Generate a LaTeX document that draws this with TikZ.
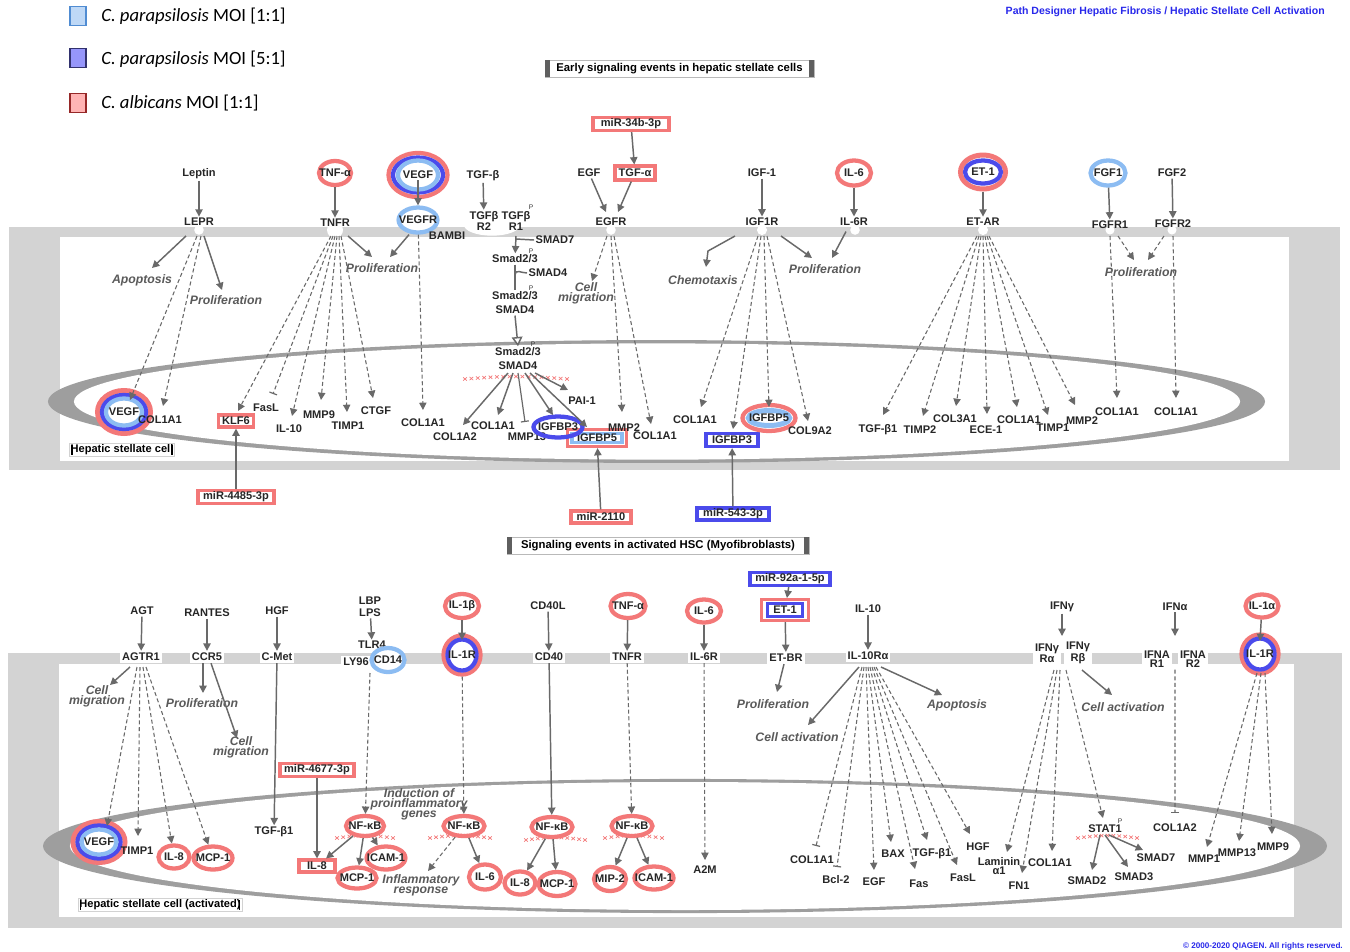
\documentclass[tikz,border=0pt]{standalone}
\usepackage{fontspec}
\setmainfont{Liberation Sans}
\newfontfamily\legfont{Carlito}
\usetikzlibrary{shapes.geometric,arrows.meta,calc}
\definecolor{rd}{RGB}{243,120,120}
\definecolor{db}{RGB}{75,75,235}
\definecolor{lb}{RGB}{140,188,242}
\definecolor{gr}{RGB}{105,105,105}
\definecolor{mem}{RGB}{211,211,211}
\definecolor{nuc}{RGB}{158,158,158}
\definecolor{fngray}{RGB}{90,90,90}
\definecolor{ttl}{RGB}{40,40,235}
\definecolor{legAf}{RGB}{190,216,246}
\definecolor{legAd}{RGB}{80,140,210}
\definecolor{legBf}{RGB}{150,150,250}
\definecolor{legBd}{RGB}{50,50,110}
\definecolor{legCf}{RGB}{255,180,180}
\definecolor{legCd}{RGB}{150,40,40}
\definecolor{hbar}{RGB}{95,95,95}
\newcommand{\lbl}{\fontsize{8.3}{6.8}\selectfont\bfseries}
\newcommand{\fnl}{\fontsize{9.2}{7.6}\selectfont\bfseries\itshape}
\newcommand{\fanline}[5]{\draw[#1] ($(#2)+(#3,0)$) -- ($(#4)+#5$);}
\newcommand{\xmrow}[4]{%
  \foreach \i in {0,...,#4}{%
    \pgfmathsetmacro{\xmA}{#1+(#2-#1)*\i/#4}%
    \pgfmathsetmacro{\xmB}{#3-2.5*sin(180*\i/#4)}%
    \draw[rd, line width=0.5pt] (\xmA-1.8,\xmB-1.6) -- (\xmA+1.8,\xmB+1.6) (\xmA-1.8,\xmB+1.6) -- (\xmA+1.8,\xmB-1.6);
  }}
\tikzset{
  lab/.style={font=\lbl, inner sep=1pt, text=black!85},
  rlab/.style={lab, fill=white, inner sep=1.5pt},
  fn/.style={font=\fnl, text=fngray, inner sep=1pt, align=center},
  pl/.style={font=\fontsize{5}{5}\selectfont, inner sep=0pt, text=black!80},
  ring/.style={ellipse, draw=rd, line width=3.2pt, inner sep=-4pt, font=\lbl, text=black!85, fill=white},
  mbox/.style={rectangle, draw=rd, line width=2.3pt, inner sep=0.6pt, fill=white, font=\lbl, text=black!85},
  arr/.style={draw=gr, line width=1.1pt, -{Triangle[length=5.5pt,width=5.5pt]}},
  darr/.style={arr, line width=0.8pt, dash pattern=on 3pt off 2pt},
  inh/.style={draw=gr, line width=0.9pt, -{Bar[width=6pt,line width=0.9pt]}},
  dinh/.style={inh, line width=0.8pt, dash pattern=on 3pt off 2pt},
  oarr/.style={draw=gr, line width=1.1pt, -{Triangle[open,length=7pt,width=8pt,fill=white]}},
  ln/.style={draw=gr, line width=1.1pt},
  hdr/.style={draw=gray!55, fill=white, line width=0.7pt, font=\fontsize{8.5}{9}\selectfont\bfseries, inner sep=0pt, minimum height=12.75pt},
  cellab/.style={draw=gray!35, fill=white, line width=0.5pt, inner sep=1pt, font=\lbl},
  legbox/.style={line width=1pt, minimum width=12pt, minimum height=14pt, inner sep=0pt},
  legtxt/.style={anchor=west, font=\legfont\fontsize{14}{14}\selectfont, inner sep=0pt},
}
\begin{document}
\begin{tikzpicture}[x=0.75pt,y=-0.75pt]
\useasboundingbox (0,0) rectangle (1350,951);
\fill[white] (0,0) rectangle (1350,951);

% ---------- legend, title ----------
\node[legbox, draw=legAd, fill=legAf] (legA) at (78,16) {};
\node[legtxt] (legAt) at (101,16) {\textit{C. parapsilosis} MOI [1:1]};
\node[legbox, draw=legBd, fill=legBf] (legB) at (78,58) {};
\node[legtxt] (legBt) at (101,59) {\textit{C. parapsilosis} MOI [5:1]};
\node[legbox, draw=legCd, fill=legCf] (legC) at (78,103) {};
\node[legtxt] (legCt) at (101,103) {\textit{C. albicans} MOI [1:1]};
\node[anchor=east, font=\fontsize{7.9}{8}\selectfont\bfseries, text=ttl, inner sep=0pt] (title) at (1325,12) {Path Designer Hepatic Fibrosis / Hepatic Stellate Cell Activation};
\node[anchor=east, font=\fontsize{6.1}{6}\selectfont\bfseries, text=ttl, inner sep=0pt] (copyr) at (1343,946) {© 2000-2020 QIAGEN. All rights reserved.};

% ---------- cell panels ----------
\fill[mem] (9,227) rectangle (1340,470);
\fill[white] (60,237) rectangle (1289,461);
\fill[mem] (8,653) rectangle (1342,928);
\fill[white] (59,664) rectangle (1294,917);
\fill[nuc] (656.5,401.5) ellipse [x radius=456.4pt, y radius=46.1pt];
\fill[white] (657,401.5) ellipse [x radius=437.3pt, y radius=43.6pt];
\fill[nuc] (685,846) ellipse [x radius=481.5pt, y radius=50.3pt];
\fill[white] (685,846) ellipse [x radius=461.3pt, y radius=48pt];
% membrane notches
\foreach \nx/\nr in {199/3.6, 335/6, 611/3.6, 762/3.8, 855/3.6, 983/3.8, 1110/3.4, 1172/3.4}
  \fill[white] (\nx,230) circle (\nr pt);
\fill[white] (492,225) ellipse [x radius=21pt, y radius=8pt];

% ---------- headers ----------
\node[hdr, minimum width=201.75pt] (hdr1) at (679.5,68.5) {Early signaling events in hepatic stellate cells};
\fill[hbar] (hdr1.north west) rectangle ($(hdr1.south west)+(5,0)$);
\fill[hbar] ($(hdr1.north east)+(-5,0)$) rectangle (hdr1.south east);
\node[hdr, minimum width=226.5pt] (hdr2) at (658,545.5) {Signaling events in activated HSC (Myofibroblasts)};
\fill[hbar] (hdr2.north west) rectangle ($(hdr2.south west)+(5,0)$);
\fill[hbar] ($(hdr2.north east)+(-5,0)$) rectangle (hdr2.south east);

% ---------- cell labels ----------
\node[cellab] (hsc1) at (122,450) {Hepatic stellate cell};
\draw[black, line width=0.8pt] ($(hsc1.west)+(3,-5)$) -- ($(hsc1.west)+(3,5)$);
\draw[black, line width=0.8pt] ($(hsc1.east)+(-3,-5)$) -- ($(hsc1.east)+(-3,5)$);
\node[cellab] (hsc2) at (160,905) {Hepatic stellate cell (activated)};
\draw[black, line width=0.8pt] ($(hsc2.west)+(3,-5)$) -- ($(hsc2.west)+(3,5)$);
\draw[black, line width=0.8pt] ($(hsc2.east)+(-3,-5)$) -- ($(hsc2.east)+(-3,5)$);

% ================= UPPER: ligands =================
\node[lab] (leptin) at (199,174) {Leptin};
\node[ring, minimum width=24pt, minimum height=18pt] (tnfa1) at (335,173) {TNF-α};
\node[ring, minimum width=44.25pt, minimum height=33pt] (vegf1o) at (418,175) {};
\node[ring, draw=db, minimum width=37.5pt, minimum height=26.25pt] (vegf1m) at (418,175) {};
\node[ring, draw=lb, minimum width=30pt, minimum height=21.75pt] (vegf1) at (418,175) {VEGF};
\node[lab] (tgfb) at (483,176) {TGF-β};
\node[mbox, minimum width=57pt, minimum height=9.75pt] (mir34) at (631,124) {miR-34b-3p};
\node[lab] (egf) at (589,173) {EGF};
\node[mbox, minimum width=30pt, minimum height=10.5pt] (tgfa) at (635,173) {TGF-α};
\node[lab] (igf1) at (762,173) {IGF-1};
\node[ring, minimum width=25.5pt, minimum height=18.75pt] (il6a) at (854,173) {IL-6};
\node[ring, line width=3.75pt, minimum width=33.75pt, minimum height=25.5pt] (et1ao) at (983,172) {};
\node[ring, draw=db, minimum width=27pt, minimum height=17.25pt] (et1a) at (983,172) {ET-1};
\node[ring, draw=lb, minimum width=26.25pt, minimum height=18.75pt] (fgf1) at (1108,173) {FGF1};
\node[lab] (fgf2) at (1172,173) {FGF2};

% receptors
\node[lab] (lepr) at (199,222) {LEPR};
\node[lab] (tnfr) at (335,223) {TNFR};
\node[ring, draw=lb, minimum width=25.5pt, minimum height=18.75pt] (vegfr) at (418,220) {VEGFR};
\node[lab] (bambi) at (447,236) {BAMBI};
\node[lab, align=center] (tgfbr2) at (484,221) {TGFβ\\R2};
\node[lab, align=center] (tgfbr1) at (516,221) {TGFβ\\R1};
\node[pl] (pA) at (531,207) {P};
\node[lab] (egfr) at (611,222) {EGFR};
\node[lab] (igf1r) at (762,222) {IGF1R};
\node[lab] (il6r) at (854,222) {IL-6R};
\node[lab] (etar) at (983,222) {ET-AR};
\node[lab] (fgfr1) at (1110,225) {FGFR1};
\node[lab] (fgfr2) at (1173,224) {FGFR2};

% functions (upper)
\node[fn] (apop1) at (142,280) {Apoptosis};
\node[fn] (prol1) at (226,300) {Proliferation};
\node[fn] (prol2) at (382,268) {Proliferation};
\node[fn] (cmig1) at (586,293) {Cell\\migration};
\node[fn] (chemo) at (703,280) {Chemotaxis};
\node[fn] (prol3) at (825,269) {Proliferation};
\node[fn] (prol4) at (1141,272) {Proliferation};

% TGF-beta cascade
\node[lab] (smad23a) at (515,259) {Smad2/3};
\node[pl] (pB) at (531,251) {P};
\node[lab] (smad7) at (555,240) {SMAD7};
\node[lab] (smad4a) at (548,273) {SMAD4};
\node[lab] (smad23b) at (515,296) {Smad2/3};
\node[pl] (pC) at (531,288) {P};
\node[lab] (smad4b) at (515,310) {SMAD4};
\node[lab] (smad23c) at (518,352) {Smad2/3};
\node[pl] (pD) at (533,344) {P};
\node[lab] (smad4c) at (518,366) {SMAD4};

% nucleus (upper)
\node[ring, line width=3.75pt, minimum width=39.75pt, minimum height=32.25pt] (vegfNo) at (124,412) {};
\node[ring, draw=db, minimum width=33pt, minimum height=25.5pt] (vegfNm) at (124,412) {};
\node[ring, draw=lb, minimum width=27pt, minimum height=20.25pt] (vegfN) at (124,412) {VEGF};
\node[lab] (colA) at (160,420) {COL1A1};
\node[mbox, minimum width=26.25pt, minimum height=9pt] (klf6) at (236,421) {KLF6};
\node[lab] (fasl1) at (266,408) {FasL};
\node[lab] (il10a) at (289,429) {IL-10};
\node[lab] (mmp9a) at (319,415) {MMP9};
\node[lab] (timp1a) at (348,426) {TIMP1};
\node[lab] (ctgf) at (376,411) {CTGF};
\node[lab] (colB) at (423,423) {COL1A1};
\node[lab] (col1a2a) at (455,437) {COL1A2};
\node[lab] (colC) at (493,426) {COL1A1};
\node[lab] (mmp13a) at (527,437) {MMP13};
\node[mbox, minimum width=44.25pt, minimum height=12.75pt] (igfbp5o) at (597,438) {};
\node[mbox, draw=lb, line width=2.6pt, minimum width=37.5pt, minimum height=7pt, inner sep=0pt] (igfbp5a) at (597,438) {IGFBP5};
\node[ring, draw=db, fill=none, minimum width=36.75pt, minimum height=15.75pt] (igfbp3a) at (558,427) {IGFBP3};
\node[lab] (pai1) at (582,401) {PAI-1};
\node[lab] (mmp2a) at (624,428) {MMP2};
\node[lab] (colD) at (655,436) {COL1A1};
\node[lab] (colE) at (695,420) {COL1A1};
\node[mbox, draw=db, minimum width=39pt, minimum height=9.75pt] (igfbp3b) at (732,440) {IGFBP3};
\node[ring, minimum width=39.75pt, minimum height=19.5pt] (igfbp5bo) at (769,418) {};
\node[ring, draw=lb, line width=3.75pt, minimum width=29.25pt, minimum height=11.25pt] (igfbp5b) at (769,418) {IGFBP5};
\node[lab] (col9a2) at (810,431) {COL9A2};
\node[lab] (tgfb1a) at (878,430) {TGF-β1};
\node[lab] (timp2) at (920,430) {TIMP2};
\node[lab] (col3a1) at (955,419) {COL3A1};
\node[lab] (ece1) at (986,430) {ECE-1};
\node[lab] (colF) at (1019,420) {COL1A1};
\node[lab] (timp1b) at (1053,428) {TIMP1};
\node[lab] (mmp2b) at (1082,421) {MMP2};
\node[lab] (colG) at (1117,412) {COL1A1};
\node[lab] (colH) at (1176,412) {COL1A1};
\node[mbox, minimum width=57pt, minimum height=9.75pt] (mir4485) at (236,497) {miR-4485-3p};
\node[mbox, minimum width=45pt, minimum height=9pt] (mir2110) at (601,517) {miR-2110};
\node[mbox, draw=db, minimum width=54pt, minimum height=9pt] (mir543) at (733,514) {miR-543-3p};

\xmrow{465}{567}{379}{16}

% upper connectors
\coordinate (leprS) at (199,236);
\coordinate (tnfrS) at (336,236);
\coordinate (egfrS) at (611,236);
\coordinate (igf1rS) at (762,236);
\coordinate (etarS) at (983,236);
\coordinate (smadS) at (520,373);
\coordinate (fgfr1S) at (1110,236);
\coordinate (fgfr2S) at (1173,236);
\coordinate (tgS) at (516,236);

\draw[arr] (leptin) -- (lepr);
\draw[arr] (tnfa1) -- (tnfr);
\draw[arr] ($(vegf1)+(0,5)$) -- (vegfr.north);
\draw[arr] (tgfb) -- (tgfbr2);
\draw[arr] (mir34) -- (tgfa);
\draw[arr] (egf) -- ($(egfr)+(-5,-10)$);
\draw[arr] (tgfa) -- ($(egfr)+(7,-10)$);
\draw[arr] (igf1) -- (igf1r);
\draw[arr] (il6a) -- (il6r);
\draw[arr] (et1ao) -- (etar);
\draw[arr] (fgf1) -- (fgfr1);
\draw[arr] (fgf2) -- (fgfr2);

\fanline{arr}{leprS}{-13}{apop1}{(10,-12)}
\fanline{arr}{leprS}{5}{prol1}{(-4,-10)}
\fanline{arr}{tnfrS}{12}{prol2}{(-10,-11)}
\draw[arr] ($(vegfr.south)+(-9,0)$) -- ($(prol2)+(8,-11)$);
\fanline{darr}{egfrS}{-4}{cmig1}{(6,-12)}
\draw[arr] ($(igf1rS)+(-27,0)$) -- ($(igf1rS)+(-54,15)$) -- ($(chemo)+(3,-13)$);
\fanline{arr}{igf1rS}{19}{prol3}{(-13,-11)}
\draw[arr] ($(il6r.south)+(-8,4)$) -- ($(prol3)+(7,-11)$);
\fanline{darr}{fgfr1S}{8}{prol4}{(-7,-12)}
\fanline{darr}{fgfr2S}{-9}{prol4}{(7,-12)}

\fanline{darr}{leprS}{-2}{vegfN}{(6,-12)}
\fanline{darr}{leprS}{2}{colA}{(3,-14)}
\fanline{darr}{tnfrS}{-5}{klf6}{(2,-10)}
\fanline{dinh}{tnfrS}{-3}{fasl1}{(7,-14)}
\fanline{darr}{tnfrS}{-1}{il10a}{(3,-13)}
\fanline{darr}{tnfrS}{1}{mmp9a}{(2,-15)}
\fanline{darr}{tnfrS}{3}{timp1a}{(-1,-14)}
\fanline{darr}{tnfrS}{5}{ctgf}{(-3,-13)}
\draw[darr] (vegfr) -- ($(colB)+(0,-13)$);

\draw[arr] (tgS) -- (smad23a);
\draw[ln] ($(tgS)+(0,3)$) -- (smad7.west);
\draw[ln] (smad23a.south) -- (smad23b.north);
\draw[ln] ($(smad23a.south)+(0,10)$) .. controls +(0,-6) and +(-5,0) .. (smad4a.west);
\draw[oarr] (smad4b.south) -- (smad23c.north);

\fanline{arr}{smadS}{-12}{col1a2a}{(8,-12)}
\fanline{arr}{smadS}{-7}{colC}{(5,-11)}
\fanline{inh}{smadS}{-2}{mmp13a}{(-2,-15)}
\fanline{arr}{smadS}{5}{igfbp3a}{(-5,-12)}
\fanline{arr}{smadS}{10}{igfbp5o}{(-10,-11)}
\fanline{arr}{smadS}{15}{pai1}{(-14,-11)}

\fanline{darr}{egfrS}{0}{mmp2a}{(-2,-16)}
\fanline{darr}{egfrS}{3}{colD}{(-4,-12)}
\fanline{darr}{igf1rS}{-4}{colE}{(6,-13)}
\fanline{darr}{igf1rS}{-1}{igfbp3b}{(1,-11)}
\fanline{darr}{igf1rS}{2}{igfbp5bo}{(0,-11)}
\fanline{darr}{igf1rS}{5}{col9a2}{(-2,-10)}
\fanline{darr}{etarS}{-6}{tgfb1a}{(5,-15)}
\fanline{darr}{etarS}{-4}{timp2}{(3,-14)}
\fanline{darr}{etarS}{-2}{col3a1}{(1,-13)}
\fanline{darr}{etarS}{0}{ece1}{(1,-16)}
\fanline{darr}{etarS}{2}{colF}{(-2,-13)}
\fanline{darr}{etarS}{4}{timp1b}{(-5,-13)}
\fanline{darr}{etarS}{6}{mmp2b}{(-7,-16)}
\fanline{darr}{fgfr1S}{0}{colG}{(0,-14)}
\fanline{darr}{fgfr2S}{0}{colH}{(0,-14)}

\draw[arr] (mir4485) -- (klf6);
\draw[arr] (mir2110) -- (igfbp5o);
\draw[arr] (mir543) -- (igfbp3b);

% ================= LOWER =================
\node[lab] (agt) at (142,611) {AGT};
\node[lab] (rantes) at (207,613) {RANTES};
\node[lab] (hgf) at (277,611) {HGF};
\node[lab, align=center] (lbp) at (370,607) {LBP\\[2.2pt]LPS};
\node[ring, minimum width=25.5pt, minimum height=18pt] (il1b) at (462,606) {IL-1β};
\node[lab] (cd40l) at (548,606) {CD40L};
\node[ring, minimum width=26.25pt, minimum height=18pt] (tnfa2) at (628,606) {TNF-α};
\node[ring, minimum width=25.5pt, minimum height=17.25pt] (il6c) at (704,611) {IL-6};
\node[mbox, draw=db, minimum width=60pt, minimum height=9.75pt] (mir92) at (790,579) {miR-92a-1-5p};
\node[mbox, minimum width=35.25pt, minimum height=15.75pt] (et1bo) at (785,610) {};
\node[mbox, draw=db, minimum width=26.25pt, minimum height=9.75pt] (et1b) at (785,610) {ET-1};
\node[lab] (il10) at (868,609) {IL-10};
\node[lab] (ifng) at (1062,607) {IFNγ};
\node[lab] (ifna) at (1175,607) {IFNα};
\node[ring, minimum width=24.75pt, minimum height=17.25pt] (il1a) at (1262,606) {IL-1α};

\node[rlab] (agtr1) at (141,657) {AGTR1};
\node[rlab] (ccr5) at (207,657) {CCR5};
\node[rlab] (cmet) at (277,657) {C-Met};
\node[lab] (tlr4) at (372,645) {TLR4};
\node[rlab] (ly96) at (356,662) {LY96};
\node[ring, draw=lb, minimum width=24.75pt, minimum height=18pt] (cd14) at (388,660) {CD14};
\node[ring, minimum width=27.75pt, minimum height=29.25pt] (il1r1o) at (462,655) {};
\node[ring, draw=db, minimum width=21.75pt, minimum height=23.25pt] (il1r1) at (462,655) {IL-1R};
\node[rlab] (cd40) at (549,657) {CD40};
\node[rlab] (tnfr2) at (627,657) {TNFR};
\node[rlab] (il6r2) at (704,657) {IL-6R};
\node[rlab] (etbr) at (786,658) {ET-BR};
\node[rlab] (il10ra) at (868,656) {IL-10Rα};
\node[rlab, align=center] (ifngra) at (1047,653) {IFNγ\\Rα};
\node[rlab, align=center] (ifngrb) at (1078,653) {IFNγ\\Rβ};
\node[rlab, align=center] (ifnar1) at (1157,659) {IFNA\\R1};
\node[rlab, align=center] (ifnar2) at (1193,659) {IFNA\\R2};
\node[ring, minimum width=27.75pt, minimum height=29.25pt] (il1r2o) at (1260,654) {};
\node[ring, draw=db, minimum width=21.75pt, minimum height=23.25pt] (il1r2) at (1260,654) {IL-1R};

\node[fn] (cmig2) at (97,696) {Cell\\migration};
\node[fn] (prol5) at (202,703) {Proliferation};
\node[fn] (cmig3) at (241,747) {Cell\\migration};
\node[fn] (induc) at (419,804) {Induction of\\proinflammatory\\genes};
\node[fn] (infl) at (421,885) {Inflammatory\\response};
\node[fn] (prol6) at (773,704) {Proliferation};
\node[fn] (cact1) at (797,737) {Cell activation};
\node[fn] (apop2) at (957,705) {Apoptosis};
\node[fn] (cact2) at (1123,707) {Cell activation};

\node[ring, line width=3.75pt, minimum width=39pt, minimum height=30.75pt] (vegf2o) at (99,842) {};
\node[ring, draw=db, minimum width=32.25pt, minimum height=24.75pt] (vegf2m) at (99,842) {};
\node[ring, draw=lb, minimum width=26.25pt, minimum height=18.75pt] (vegf2) at (99,842) {VEGF};
\node[lab] (timp1c) at (137,851) {TIMP1};
\node[ring, minimum width=23.25pt, minimum height=17.25pt] (il8a) at (174,857) {IL-8};
\node[ring, minimum width=29.25pt, minimum height=17.25pt] (mcp1a) at (213,858) {MCP-1};
\node[lab] (tgfb1b) at (274,832) {TGF-β1};
\node[mbox, minimum width=55.5pt, minimum height=9.75pt] (mir4677) at (317,770) {miR-4677-3p};
\node[mbox, minimum width=27pt, minimum height=9pt] (il8box) at (317,866) {IL-8};
\node[ring, minimum width=28.5pt, minimum height=17.25pt] (icam1a) at (386,858) {ICAM-1};
\node[ring, minimum width=29.25pt, minimum height=15.75pt] (mcp1b) at (357,878) {MCP-1};
\node[ring, minimum width=28.5pt, minimum height=15pt] (nfkb1) at (365,826) {NF-κB};
\node[ring, minimum width=30.75pt, minimum height=15pt] (nfkb2) at (464,826) {NF-κB};
\node[ring, minimum width=24pt, minimum height=18.75pt] (il6d) at (485,877) {IL-6};
\node[ring, minimum width=30.75pt, minimum height=15pt] (nfkb3) at (552,827) {NF-κB};
\node[ring, minimum width=23.25pt, minimum height=17.25pt] (il8b) at (520,883) {IL-8};
\node[ring, minimum width=27.75pt, minimum height=18pt] (mcp1c) at (557,884) {MCP-1};
\node[ring, minimum width=30.75pt, minimum height=15pt] (nfkb4) at (632,826) {NF-κB};
\node[ring, minimum width=24pt, minimum height=18pt] (mip2) at (610,879) {MIP-2};
\node[ring, minimum width=29.25pt, minimum height=17.25pt] (icam1b) at (654,878) {ICAM-1};
\node[lab] (a2m) at (705,870) {A2M};
\node[lab] (colL) at (812,860) {COL1A1};
\node[lab] (bcl2) at (836,880) {Bcl-2};
\node[lab] (egf2) at (874,882) {EGF};
\node[lab] (bax) at (893,854) {BAX};
\node[lab] (fas) at (919,884) {Fas};
\node[lab] (tgfb1c) at (932,854) {TGF-β1};
\node[lab] (fasl2) at (963,878) {FasL};
\node[lab] (hgf2) at (978,847) {HGF};
\node[lab, align=center] (lamin) at (999,866) {Laminin\\α1};
\node[lab] (fn1) at (1019,886) {FN1};
\node[lab] (colM) at (1050,863) {COL1A1};
\node[lab] (stat1) at (1105,829) {STAT1};
\node[pl] (pE) at (1120,821) {P};
\node[lab] (smad2) at (1087,881) {SMAD2};
\node[lab] (smad3) at (1134,877) {SMAD3};
\node[lab] (smad7b) at (1156,858) {SMAD7};
\node[lab] (col1a2b) at (1175,828) {COL1A2};
\node[lab] (mmp1) at (1204,859) {MMP1};
\node[lab] (mmp13b) at (1237,853) {MMP13};
\node[lab] (mmp9b) at (1273,847) {MMP9};

\xmrow{337}{393}{838}{9}
\xmrow{430}{490}{838}{10}
\xmrow{526}{585}{840}{10}
\xmrow{605}{662}{838}{9}
\xmrow{1078}{1137}{838}{10}

\coordinate (agtr1S) at (141,667);
\coordinate (il10raS) at (868,667);
\coordinate (ifngrS) at (1060,670);
\coordinate (ifngrT) at (1062,636);
\coordinate (ifnarT) at (1175,636);
\coordinate (il1r2S) at (1261,673);
\coordinate (stat1S) at (1105,835);

\draw[arr] (agt) -- (agtr1);
\draw[arr] (rantes) -- (ccr5);
\draw[arr] (hgf) -- (cmet);
\draw[arr] (lbp) -- (tlr4);
\draw[arr] (il1b) -- ($(il1r1)+(0,-15)$);
\draw[arr] (cd40l) -- (cd40);
\draw[arr] (tnfa2) -- (tnfr2);
\draw[arr] (il6c) -- (il6r2);
\draw[arr] (mir92) -- (et1bo);
\draw[arr] (et1bo) -- (etbr);
\draw[arr] (il10) -- (il10ra);
\draw[arr] (ifng) -- (ifngrT);
\draw[arr] (ifna) -- (ifnarT);
\draw[arr] (il1a) -- ($(il1r2)+(0,-13)$);

\fanline{arr}{agtr1S}{-11}{cmig2}{(13,-11)}
\draw[arr] ($(ccr5.south)+(-4,0)$) -- ($(prol5)+(1,-10)$);
\draw[arr] ($(ccr5.south)+(4,0)$) -- ($(cmig3)+(-4,-9)$);
\draw[arr] (cmet) -- (tgfb1b);
\fanline{darr}{agtr1S}{-4}{vegf2}{(8,-16)}
\fanline{darr}{agtr1S}{-1}{timp1c}{(1,-15)}
\draw[darr] ($(agtr1S)+(2,0)$) -- (il8a);
\draw[darr] ($(agtr1S)+(5,0)$) -- (mcp1a);
\draw[arr] (mir4677) -- (il8box);
\draw[darr] ($(cd14)+(-18,13)$) -- (nfkb1);
\draw[arr] (nfkb1) -- (il8box);
\draw[arr] (nfkb1) -- (mcp1b);
\draw[arr] (nfkb1) -- (icam1a);
\draw[darr] (il1r1o) -- (nfkb2);
\draw[darr] (nfkb2) -- ($(infl)+(7,-14)$);
\draw[arr] (nfkb2) -- (il6d);
\draw[arr] (cd40) -- (nfkb3);
\draw[arr] (nfkb3) -- (il8b);
\draw[arr] (nfkb3) -- (mcp1c);
\draw[darr] (tnfr2) -- (nfkb4);
\draw[arr] (nfkb4) -- (mip2);
\draw[arr] (nfkb4) -- (icam1b);
\draw[darr] (il6r2) -- ($(a2m)+(0,-10)$);
\draw[arr] ($(etbr.south)+(-2,0)$) -- ($(prol6)+(4,-12)$);
\fanline{arr}{il10raS}{-9}{cact1}{(11,-12)}
\fanline{arr}{il10raS}{13}{apop2}{(-15,-10)}
\fanline{dinh}{il10raS}{-6}{colL}{(4,-14)}
\fanline{dinh}{il10raS}{-4}{bcl2}{(1,-13)}
\fanline{darr}{il10raS}{-2}{egf2}{(0,-12)}
\fanline{darr}{il10raS}{0}{bax}{(-2,-12)}
\fanline{darr}{il10raS}{2}{fas}{(-4,-15)}
\fanline{darr}{il10raS}{4}{tgfb1c}{(-5,-14)}
\fanline{darr}{il10raS}{6}{fasl2}{(-6,-13)}
\fanline{darr}{il10raS}{8}{hgf2}{(-8,-13)}
\fanline{darr}{ifngrS}{-6}{lamin}{(8,-14)}
\fanline{darr}{ifngrS}{-3}{fn1}{(3,-13)}
\fanline{darr}{ifngrS}{0}{colM}{(2,-12)}
\fanline{darr}{ifngrS}{6}{stat1}{(-2,-11)}
\fanline{arr}{ifngrS}{22}{cact2}{(-11,-12)}
\fanline{arr}{stat1S}{-5}{smad2}{(5,-11)}
\fanline{arr}{stat1S}{0}{smad3}{(-6,-10)}
\fanline{arr}{stat1S}{4}{smad7b}{(-13,-8)}
\draw[dinh] ($(ifnar1.south east)!0.5!(ifnar2.south west)$) -- ($(col1a2b)+(0,-15)$);
\fanline{darr}{il1r2S}{-4}{mmp1}{(3,-12)}
\fanline{darr}{il1r2S}{0}{mmp13b}{(2,-12)}
\fanline{darr}{il1r2S}{4}{mmp9b}{(-1,-13)}
\end{tikzpicture}
\end{document}
